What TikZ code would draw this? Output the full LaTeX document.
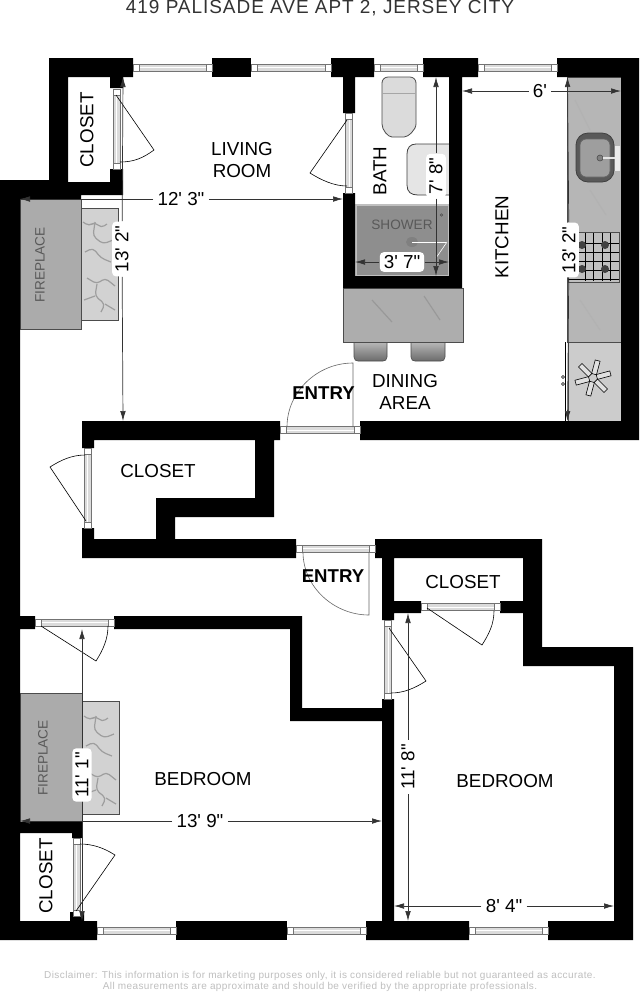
\documentclass[tikz,border=0pt]{standalone}
\usepackage{fontspec}
\setmainfont{Liberation Sans}
\newfontfamily\titlefont[LetterSpace=5]{Liberation Sans}
\newfontfamily\notefont[LetterSpace=4]{Liberation Sans}
\newfontfamily\dimfont{Liberation Sans}
\usepackage{tikz}
\usetikzlibrary{arrows.meta}
\usetikzlibrary{calc}
\usetikzlibrary{positioning}

\definecolor{firegrey}{HTML}{ABABAB}
\definecolor{stonegrey}{HTML}{B6B6B6}
\definecolor{marblegrey}{HTML}{D2D2D2}
\definecolor{showergrey}{HTML}{8E8E8E}

\tikzset{
	wall/.style={fill=black},
	stone/.style={fill=#1,draw=black!70,line width=0.3pt},
	stool/.style={top color=black!28,bottom color=black!58,draw=black!70,line width=0.3pt},
	vein/.style={draw=black!38,line width=0.6pt,rounded corners=2pt},
	rail/.style={fill=black!14,draw=black!55,line width=0.3pt},
	jamb/.style={fill=white,draw=black!55,line width=0.3pt},
	leaf/.style={draw=black,line width=0.3pt},
	roomlabel/.style={font=\fontsize{9.4}{10.8}\selectfont,align=center,inner sep=0pt},
	firelabel/.style={font=\fontsize{6.8}{8}\selectfont,text=black!65,inner sep=0pt},
	entrylabel/.style={font=\fontsize{9.3}{11}\selectfont\bfseries,inner sep=0pt},
	dimlabel/.style={font=\fontsize{9.4}{11}\dimfont,fill=white,rounded corners=2pt,inner xsep=2pt,inner ysep=1.6pt},
	dimline/.style={draw=black!80,line width=0.35pt,-{Latex[length=5pt,width=2.8pt]}}
}

% window or door frame, horizontal and vertical
\newcommand{\frameh}[3]{
	\draw[rail] (#1+5,#3-3.5) rectangle (#2-5,#3+3.5);
	\draw[white,line width=0.4pt] (#1+5,#3) -- (#2-5,#3);
	\draw[jamb] (#1,#3-3.5) rectangle (#1+6,#3+3.5);
	\draw[jamb] (#2-6,#3-3.5) rectangle (#2,#3+3.5);
}
\newcommand{\framev}[3]{
	\draw[rail] (#3-3.5,#1+5) rectangle (#3+3.5,#2-5);
	\draw[white,line width=0.4pt] (#3,#1+5) -- (#3,#2-5);
	\draw[jamb] (#3-3.5,#1) rectangle (#3+3.5,#1+6);
	\draw[jamb] (#3-3.5,#2-6) rectangle (#3+3.5,#2);
}
\newcommand{\marbleveins}[2]{
	\begin{scope}[shift={(#1,#2)}]
		\draw[vein] (2,10) -- (8,14) -- (14,10) -- (20,16) -- (26,12);
		\draw[vein] (14,10) -- (12,24) -- (22,32) -- (32,28);
		\draw[vein] (4,40) -- (12,36) -- (20,46) -- (30,50);
		\draw[vein] (6,66) -- (16,72) -- (24,66) -- (34,74);
		\draw[vein] (16,72) -- (14,84) -- (24,92) -- (20,100);
		\draw[vein] (3,88) -- (14,84);
		\draw[vein] (24,92) -- (34,98);
	\end{scope}
}

\begin{document}
\begin{tikzpicture}[x=0.5pt,y=-0.5pt]
	\useasboundingbox[fill=white] (0,0) rectangle (640,993);

	% fireplaces
	\draw[stone=firegrey] (20,199) rectangle (81,329);
	\draw[stone=marblegrey] (81,208) rectangle (118,320);
	\marbleveins{81}{212}
	\draw[stone=firegrey] (20,693) rectangle (82,822);
	\draw[stone=marblegrey] (82,701) rectangle (119,814);
	\marbleveins{82}{706}

	% kitchen
	\draw[stone=stonegrey] (567,77) rectangle (621,342);
	\draw[vein,black!30] (575,100) -- (590,130);
	\draw[vein,black!30] (590,190) -- (606,215);
	\draw[vein,black!30] (580,300) -- (600,330);
	\draw[fill=black!65,draw=black!75,rounded corners=6pt] (576,133) rectangle (614,182);
	\draw[fill=black!38,draw=black!60,rounded corners=3pt] (580,139) rectangle (610,177);
	\draw[fill=black!50,draw=black!70,line width=0.3pt] (600,158) circle (3);
	\draw[fill=black!8,draw=none] (615,146) rectangle (620,171);
	\draw[draw=black!10,line width=0.8pt] (603,158) -- (615,158);
	\draw[fill=black!25,draw=black!70,line width=0.3pt] (568,232) rectangle (619,282);
	\foreach \gx in {585,593,602,610} {
		\draw[line width=0.3pt] (\gx,233) -- (\gx,281);
	}
	\foreach \gy in {243,252,261,270,279} {
		\draw[line width=0.3pt] (568,\gy) -- (619,\gy);
	}
	\foreach \bx/\by in {582/245,605/245,582/269,605/269} {
		\fill[black!75] (\bx,\by) circle (4);
	}
	\draw[stone=black!20] (568,342) rectangle (621,421);
	\draw[line width=0.4pt] (565.5,342) -- (565.5,421);
	\draw[line width=0.3pt] (563,377) circle (1.5);
	\draw[line width=0.3pt] (563,384) circle (1.5);
	\foreach \ang in {15,75,...,315} {
		\draw[rotate around={\ang:(593,378)},fill=black!12,line width=0.3pt] (597,375.5) rectangle (611,380.5);
	}

	% bath
	\draw[fill=black!14,draw=black!70,line width=0.4pt,rounded corners=3pt] (382,77) -- (416,77) -- (416,118) .. controls (416,130) and (408,137) .. (398,137) .. controls (388,137) and (382,130) .. (382,118) -- cycle;
	\draw[black!35,line width=0.3pt] (382,93) -- (416,93);
	\draw[fill=black!10,draw=black!75,line width=0.4pt] (449,144) -- (416,144) .. controls (410,144) and (407,148) .. (407,154) -- (407,185) .. controls (407,192) and (411,195) .. (418,195) -- (449,195);
	\draw[fill=showergrey,draw=black!25,line width=0.8pt] (356,205) rectangle (449,276);
	\draw[black!45,line width=0.5pt] (358,209) -- (447,209);
	\fill[black!50] (412,242) ellipse (6 and 5);
	\draw[white,line width=0.3pt] (412,242) -- (446,242);
	\draw[white,line width=0.3pt] (436,258) -- (447,242);
	\draw[black!70,line width=0.3pt] (441.5,215) circle (1.2);

	% dining counter and stools
	\draw[stool] (354,342) -- (387,342) -- (387,357) .. controls (387,360) and (385,361) .. (383,361) -- (358,361) .. controls (356,361) and (354,360) .. (354,357) -- cycle;
	\draw[stool] (411,342) -- (445,342) -- (445,357) .. controls (445,360) and (443,361) .. (441,361) -- (415,361) .. controls (413,361) and (411,360) .. (411,357) -- cycle;
	\draw[stone=black!32] (343,288) rectangle (463,342);
	\draw[vein,black!40] (372,300) -- (392,322);
	\draw[vein,black!40] (424,296) -- (440,320);

	% walls
	\fill[wall] (49,58) -- (133,58) -- (133,77) -- (123,77) -- (123,88) -- (110,88) -- (110,77) -- (68,77) -- (68,182) -- (110,182) -- (110,169) -- (123,169) -- (123,195) -- (81,195) -- (81,199) -- (20,199) -- (20,616) -- (35,616) -- (35,629) -- (20,629) -- (20,822) -- (82,822) -- (82,838) -- (72,838) -- (72,833) -- (20,833) -- (20,921) -- (70,921) -- (70,912) -- (84,912) -- (84,921) -- (97,921) -- (97,940) -- (0,940) -- (0,180) -- (49,180) -- cycle;
	\fill[wall] (212,58) rectangle (251,77);
	\fill[wall] (331,58) -- (374,58) -- (374,77) -- (355,77) -- (355,113) -- (343,113) -- (343,77) -- (331,77) -- cycle;
	\fill[wall] (423,58) -- (478,58) -- (478,77) -- (462,77) -- (462,288) -- (343,288) -- (343,193) -- (355,193) -- (355,276) -- (449,276) -- (449,77) -- (423,77) -- cycle;
	\fill[wall] (557,58) -- (639,58) -- (639,440) -- (360,440) -- (360,421) -- (621,421) -- (621,77) -- (557,77) -- cycle;
	\fill[wall] (82,421) -- (280,421) -- (280,440) -- (274,440) -- (274,517) -- (175,517) -- (175,539) -- (296,539) -- (296,558) -- (82,558) -- (82,528) -- (94,528) -- (94,539) -- (156,539) -- (156,498) -- (255,498) -- (255,440) -- (94,440) -- (94,448) -- (82,448) -- cycle;
	\fill[wall] (114,616) -- (302,616) -- (302,708) -- (382,708) -- (382,699) -- (394,699) -- (394,921) -- (469,921) -- (469,940) -- (366,940) -- (366,921) -- (382,921) -- (382,721) -- (290,721) -- (290,629) -- (114,629) -- cycle;
	\fill[wall] (375,539) -- (542,539) -- (542,647) -- (633,647) -- (633,940) -- (548,940) -- (548,921) -- (614,921) -- (614,666) -- (523,666) -- (523,613) -- (500,613) -- (500,601) -- (523,601) -- (523,558) -- (394,558) -- (394,601) -- (421,601) -- (421,613) -- (394,613) -- (394,620) -- (382,620) -- (382,558) -- (375,558) -- cycle;
	\fill[wall] (176,921) rectangle (287,940);

	% windows
	\frameh{133}{212}{67.5}
	\frameh{251}{331}{67.5}
	\frameh{374}{423}{67.5}
	\frameh{478}{557}{67.5}
	\frameh{97}{176}{930.5}
	\frameh{287}{366}{930.5}
	\frameh{469}{548}{930.5}

	% doors
	\framev{89}{169}{116.5}
	\draw[leaf] (116,95) -- (154,150) .. controls (143,158) and (134,162) .. (120,162);
	\framev{113}{193}{349}
	\draw[leaf] (347,120) -- (310,173) .. controls (321,180) and (334,186) .. (347,186);
	\frameh{280}{360}{430}
	\draw[leaf,black!60] (353,427) -- (353,363) .. controls (317,363) and (287,392) .. (287,427);
	\framev{448}{528}{87.5}
	\draw[leaf] (86,521) -- (50,467) .. controls (61,460) and (72,455) .. (85,455);
	\frameh{296}{375}{548.5}
	\draw[leaf,black!60] (369,552) -- (369,615) .. controls (334,615) and (303,587) .. (303,552);
	\frameh{421}{500}{607}
	\draw[leaf] (427,608) -- (482,645) .. controls (489,634) and (494,624) .. (494,611);
	\framev{620}{699}{388}
	\draw[leaf] (389,628) -- (426,681) .. controls (415,688) and (404,693) .. (391,693);
	\frameh{35}{114}{622.5}
	\draw[leaf] (41,626) -- (96,661) .. controls (103,650) and (108,639) .. (108,626);
	\framev{838}{916}{76.5}
	\draw[leaf] (76,911) -- (115,855) .. controls (104,848) and (93,844) .. (80,844);

	% title
	\node[inner sep=0pt,font=\fontsize{9.5}{11}\titlefont,text=black!80] (title) at (320,8) {419 PALISADE AVE APT 2, JERSEY CITY};

	% rooms
	\node[roomlabel] (living) at (242,160) {LIVING\\ROOM};
	\node[roomlabel,rotate=90] (closetA) at (87,130) {CLOSET};
	\node[roomlabel,rotate=90] (bath) at (380,171) {BATH};
	\node[roomlabel,rotate=90] (kitchen) at (502,237) {KITCHEN};
	\node[roomlabel] (dining) at (405,392) {DINING\\AREA};
	\node[roomlabel] (closetB) at (158,471) {CLOSET};
	\node[roomlabel] (closetC) at (463,582) {CLOSET};
	\node[roomlabel,rotate=90] (closetD) at (46,876) {CLOSET};
	\node[roomlabel] (bedroomL) at (203,779) {BEDROOM};
	\node[roomlabel] (bedroomR) at (505,781) {BEDROOM};
	\node[entrylabel] (entryA) at (323.5,393) {ENTRY};
	\node[entrylabel] (entryB) at (333,576) {ENTRY};
	\node[firelabel,rotate=90] (fireA) at (40,265) {FIREPLACE};
	\node[firelabel,rotate=90] (fireB) at (43,758) {FIREPLACE};
	\node[firelabel] (shower) at (402,225) {SHOWER};

	% dimensions
	\node[dimlabel] (dimLiving) at (181,199) {12' 3"};
	\coordinate (dimLivingW) at (20,199);
	\coordinate (dimLivingE) at (343,199);
	\draw[dimline] (dimLiving) -- (dimLivingW);
	\draw[dimline] (dimLiving) -- (dimLivingE);

	\node[dimlabel,rotate=90] (dimLivingV) at (122,249) {13' 2"};
	\coordinate (dimLivingT) at (123,77);
	\coordinate (dimLivingB) at (123,421);
	\draw[dimline] (dimLivingV) -- (dimLivingT);
	\draw[dimline] (dimLivingV) -- (dimLivingB);

	\node[dimlabel] (dimKitchen) at (540,91) {6'};
	\coordinate (dimKitchenW) at (462,91);
	\coordinate (dimKitchenE) at (621,91);
	\draw[dimline] (dimKitchen) -- (dimKitchenW);
	\draw[dimline] (dimKitchen) -- (dimKitchenE);

	\node[dimlabel,rotate=90] (dimKitchenV) at (569,250) {13' 2"};
	\coordinate (dimKitchenT) at (567.5,77);
	\coordinate (dimKitchenB) at (567.5,421);
	\draw[dimline] (dimKitchenV) -- (dimKitchenT);
	\draw[dimline] (dimKitchenV) -- (dimKitchenB);

	\node[dimlabel,rotate=90] (dimBath) at (436,176) {7' 8"};
	\coordinate (dimBathT) at (436,77);
	\coordinate (dimBathB) at (436,276);
	\draw[dimline] (dimBath) -- (dimBathT);
	\draw[dimline] (dimBath) -- (dimBathB);

	\node[dimlabel] (dimShower) at (402,262) {3' 7"};
	\coordinate (dimShowerW) at (355,262);
	\coordinate (dimShowerE) at (449,262);
	\draw[dimline] (dimShower) -- (dimShowerW);
	\draw[dimline] (dimShower) -- (dimShowerE);

	\node[dimlabel,rotate=90] (dimBedL) at (82,775) {11' 1"};
	\coordinate (dimBedLT) at (82,629);
	\coordinate (dimBedLB) at (82,921);
	\draw[dimline] (dimBedL) -- (dimBedLT);
	\draw[dimline] (dimBedL) -- (dimBedLB);

	\node[dimlabel] (dimBedLH) at (200,821) {13' 9"};
	\coordinate (dimBedLW) at (20,821);
	\coordinate (dimBedLE) at (382,821);
	\draw[dimline] (dimBedLH) -- (dimBedLW);
	\draw[dimline] (dimBedLH) -- (dimBedLE);

	\node[dimlabel,rotate=90] (dimBedR) at (408,767) {11' 8"};
	\coordinate (dimBedRT) at (408,613);
	\coordinate (dimBedRB) at (408,921);
	\draw[dimline] (dimBedR) -- (dimBedRT);
	\draw[dimline] (dimBedR) -- (dimBedRB);

	\node[dimlabel] (dimBedRH) at (504,906) {8' 4"};
	\coordinate (dimBedRW) at (394,906);
	\coordinate (dimBedRE) at (614,906);
	\draw[dimline] (dimBedRH) -- (dimBedRW);
	\draw[dimline] (dimBedRH) -- (dimBedRE);

	% disclaimer
	\node[inner sep=0pt,align=center,font=\fontsize{5}{5.6}\notefont,text=black!25] (disclaimer) at (320,981.5) {Disclaimer: This information is for marketing purposes only, it is considered reliable but not guaranteed as accurate.\\All measurements are approximate and should be verified by the appropriate professionals.};
\end{tikzpicture}
\end{document}
